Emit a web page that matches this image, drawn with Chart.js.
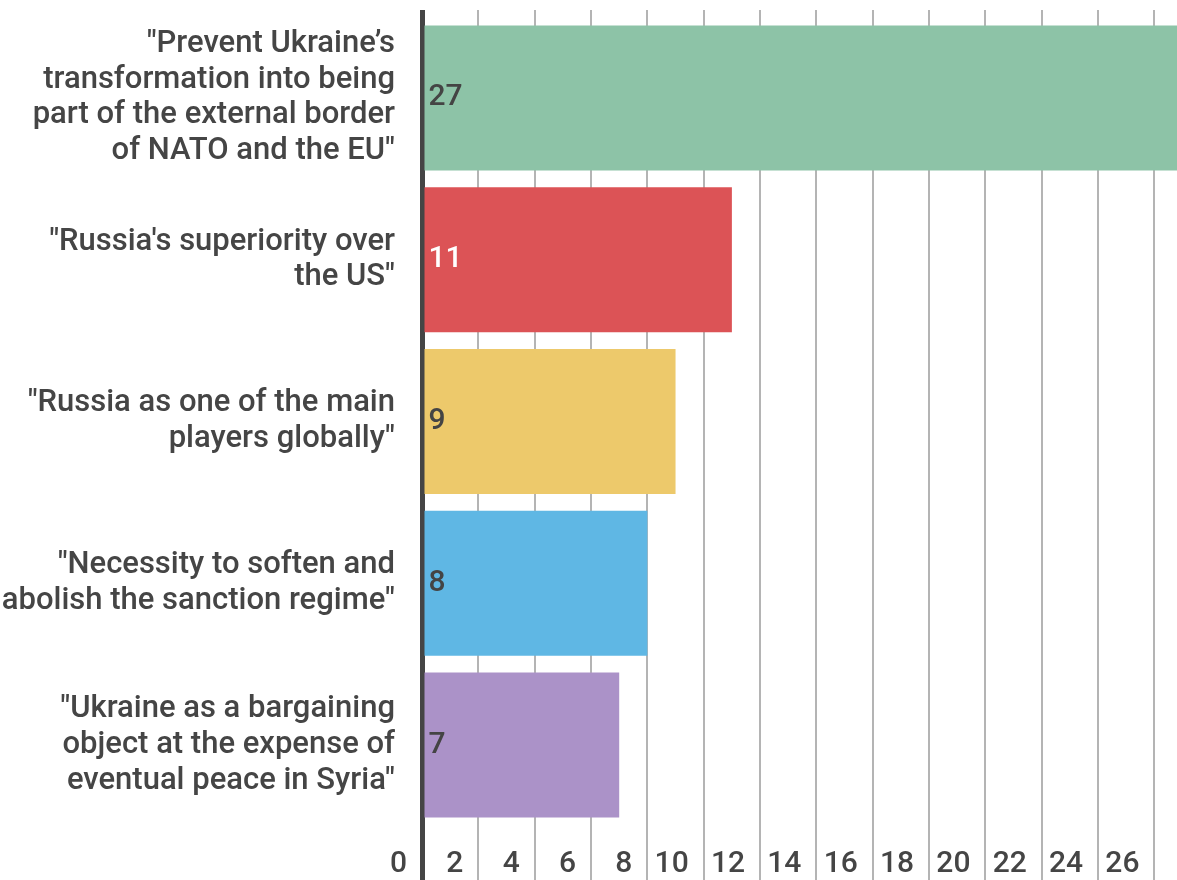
<!DOCTYPE html>
<html>
<head>
<meta charset="utf-8">
<title>Russian motives</title>
<script src="https://cdn.jsdelivr.net/npm/chart.js@4/dist/chart.umd.min.js"></script>
<style>
  html, body { margin: 0; padding: 0; background: #fff; overflow: hidden; }
  #wrap { width: 1177px; height: 880px; position: relative; }
</style>
</head>
<body>
<div id="wrap"><canvas id="chart"></canvas></div>
<script>
// data
const categories = [
    ['"Prevent Ukraine\u2019s', 'transformation into being', 'part of the external border', 'of NATO and the EU"'],
    ['"Russia\'s superiority over', 'the US"'],
    ['"Russia as one of the main', 'players globally"'],
    ['"Necessity to soften and', 'abolish the sanction regime"'],
    ['"Ukraine as a bargaining', 'object at the expense of', 'eventual peace in Syria"']
];
const values = [27, 11, 9, 8, 7];
const xTicks = [0, 2, 4, 6, 8, 10, 12, 14, 16, 18, 20, 22, 24, 26];

const barColors = ['#8dc3a7', '#dc5356', '#edc96b', '#5fb7e4', '#ab92c8'];
const valueLabelColors = ['#444444', '#ffffff', '#444444', '#444444', '#444444'];

const TEXT = '#454545';
const GRID = '#b4b4b4';
const AXIS = '#454545';
const X_MAX = 26.8;

const gridColor = ctx => (ctx.tick && ctx.tick.value === 0) ? AXIS : GRID;
const gridWidth = ctx => (ctx.tick && ctx.tick.value === 0) ? 5 : 2;
const useTicks = axis => { axis.ticks = xTicks.map(v => ({ value: v })); };

// value labels inside the bars, placed from the bar elements
const valueLabels = {
    id: 'valueLabels',
    afterDatasetsDraw(chart) {
        const ctx = chart.ctx;
        const meta = chart.getDatasetMeta(0);
        ctx.save();
        ctx.font = '500 30px Roboto';
        ctx.textAlign = 'left';
        ctx.textBaseline = 'middle';
        meta.data.forEach((bar, i) => {
            ctx.fillStyle = valueLabelColors[i];
            ctx.fillText(String(values[i]), bar.base + 4, bar.y);
        });
        ctx.restore();
    }
};

function draw() {
    Chart.defaults.font.family = 'Roboto';
    Chart.defaults.font.weight = 500;
    Chart.defaults.color = TEXT;

    new Chart(document.getElementById('chart'), {
        type: 'bar',
        data: {
            labels: categories,
            datasets: [{
                data: values,
                backgroundColor: barColors,
                borderWidth: 0,
                barPercentage: 0.896,
                categoryPercentage: 1
            }]
        },
        options: {
            indexAxis: 'y',
            responsive: true,
            maintainAspectRatio: false,
            animation: false,
            layout: { padding: { top: 10, left: 0, right: 0, bottom: 0 } },
            plugins: {
                legend: { display: false },
                tooltip: { enabled: false }
            },
            scales: {
                x: {
                    type: 'linear',
                    position: 'bottom',
                    min: 0,
                    max: X_MAX,
                    afterBuildTicks: useTicks,
                    afterFit: s => { s.height = 54; s.paddingLeft = 0; s.paddingRight = 0; },
                    border: { display: false },
                    grid: { color: gridColor, lineWidth: gridWidth, tickLength: 54 },
                    ticks: {
                        align: 'end',
                        labelOffset: -15,
                        padding: -34,
                        color: TEXT,
                        font: { size: 30, weight: 500 }
                    }
                },
                xTop: {
                    type: 'linear',
                    position: 'top',
                    min: 0,
                    max: X_MAX,
                    afterBuildTicks: useTicks,
                    afterFit: s => { s.height = 7; s.paddingLeft = 0; s.paddingRight = 0; },
                    border: { display: false },
                    grid: { color: gridColor, lineWidth: gridWidth, drawOnChartArea: false, tickLength: 7 },
                    ticks: { display: false }
                },
                y: {
                    z: 1,
                    afterFit: s => { s.width = 422; s.paddingTop = 0; s.paddingBottom = 0; },
                    border: { display: true, color: AXIS, width: 5 },
                    grid: { color: 'rgba(0,0,0,0)', drawOnChartArea: false, drawTicks: false },
                    ticks: {
                        padding: 27,
                        color: TEXT,
                        font: { size: 31, weight: 500, lineHeight: 1.15 }
                    }
                }
            }
        },
        plugins: [valueLabels]
    });
}

if (document.fonts && document.fonts.load) {
    document.fonts.load('500 31px Roboto').then(draw, draw);
} else {
    draw();
}
</script>
</body>
</html>
